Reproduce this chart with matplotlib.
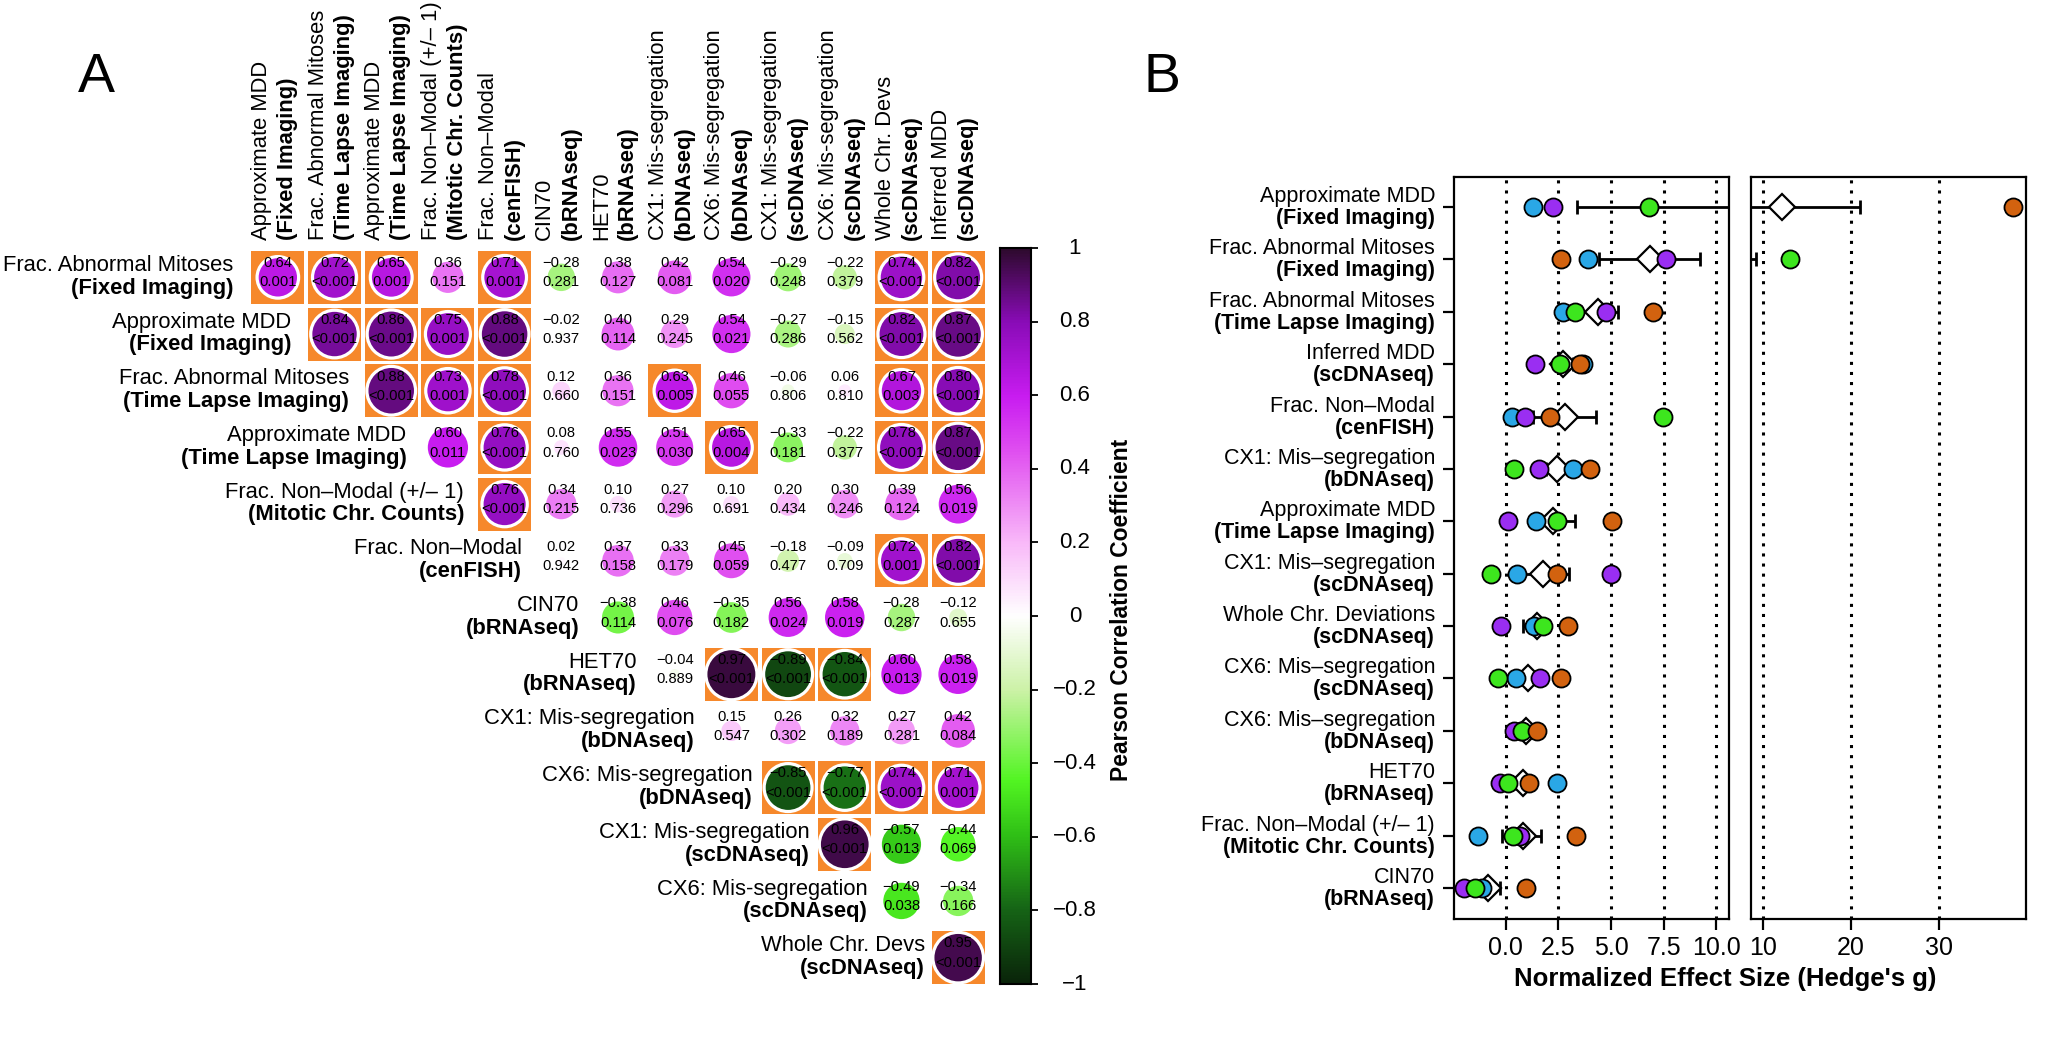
import numpy as np
import matplotlib
matplotlib.use("Agg")
import matplotlib.pyplot as plt
from matplotlib.patches import Circle, Rectangle
from matplotlib.colors import LinearSegmentedColormap, Normalize
import matplotlib.transforms as mtransforms

plt.rcParams['font.family'] = ['Liberation Sans', 'DejaVu Sans']

# ---------------- Panel A data ----------------
row_main = ["Frac. Abnormal Mitoses", "Approximate MDD", "Frac. Abnormal Mitoses", "Approximate MDD",
            "Frac. Non\u2013Modal (+/\u2013 1)", "Frac. Non\u2013Modal", "CIN70", "HET70",
            "CX1: Mis-segregation", "CX6: Mis-segregation", "CX1: Mis-segregation",
            "CX6: Mis-segregation", "Whole Chr. Devs"]
row_sub = ["(Fixed Imaging)", "(Fixed Imaging)", "(Time Lapse Imaging)", "(Time Lapse Imaging)",
           "(Mitotic Chr. Counts)", "(cenFISH)", "(bRNAseq)", "(bRNAseq)", "(bDNAseq)", "(bDNAseq)",
           "(scDNAseq)", "(scDNAseq)", "(scDNAseq)"]
col_main = ["Approximate MDD", "Frac. Abnormal Mitoses", "Approximate MDD", "Frac. Non\u2013Modal (+/\u2013 1)",
            "Frac. Non\u2013Modal", "CIN70", "HET70", "CX1: Mis-segregation", "CX6: Mis-segregation",
            "CX1: Mis-segregation", "CX6: Mis-segregation", "Whole Chr. Devs", "Inferred MDD"]
col_sub = ["(Fixed Imaging)", "(Time Lapse Imaging)", "(Time Lapse Imaging)", "(Mitotic Chr. Counts)",
           "(cenFISH)", "(bRNAseq)", "(bRNAseq)", "(bDNAseq)", "(bDNAseq)", "(scDNAseq)", "(scDNAseq)",
           "(scDNAseq)", "(scDNAseq)"]

# upper-triangle correlations, row i holds columns i..12
corr_r = [
    [0.64, 0.72, 0.65, 0.36, 0.71, -0.28, 0.38, 0.42, 0.54, -0.29, -0.22, 0.74, 0.82],
    [0.84, 0.86, 0.75, 0.88, -0.02, 0.40, 0.29, 0.54, -0.27, -0.15, 0.82, 0.87],
    [0.88, 0.73, 0.78, 0.12, 0.36, 0.63, 0.46, -0.06, 0.06, 0.67, 0.80],
    [0.60, 0.76, 0.08, 0.55, 0.51, 0.65, -0.33, -0.22, 0.78, 0.87],
    [0.76, 0.34, 0.10, 0.27, 0.10, 0.20, 0.30, 0.39, 0.56],
    [0.02, 0.37, 0.33, 0.45, -0.18, -0.09, 0.72, 0.82],
    [-0.38, 0.46, -0.35, 0.56, 0.58, -0.28, -0.12],
    [-0.04, 0.97, -0.89, -0.84, 0.60, 0.58],
    [0.15, 0.26, 0.32, 0.27, 0.42],
    [-0.85, -0.77, 0.74, 0.71],
    [0.96, -0.57, -0.44],
    [-0.49, -0.34],
    [0.95],
]
corr_p = [
    ["0.001", "<0.001", "0.001", "0.151", "0.001", "0.281", "0.127", "0.081", "0.020", "0.248", "0.379", "<0.001", "<0.001"],
    ["<0.001", "<0.001", "0.001", "<0.001", "0.937", "0.114", "0.245", "0.021", "0.286", "0.562", "<0.001", "<0.001"],
    ["<0.001", "0.001", "<0.001", "0.660", "0.151", "0.005", "0.055", "0.806", "0.810", "0.003", "<0.001"],
    ["0.011", "<0.001", "0.760", "0.023", "0.030", "0.004", "0.181", "0.377", "<0.001", "<0.001"],
    ["<0.001", "0.215", "0.736", "0.296", "0.691", "0.434", "0.246", "0.124", "0.019"],
    ["0.942", "0.158", "0.179", "0.059", "0.477", "0.709", "0.001", "<0.001"],
    ["0.114", "0.076", "0.182", "0.024", "0.019", "0.287", "0.655"],
    ["0.889", "<0.001", "<0.001", "<0.001", "0.013", "0.019"],
    ["0.547", "0.302", "0.189", "0.281", "0.084"],
    ["<0.001", "<0.001", "<0.001", "0.001"],
    ["<0.001", "0.013", "0.069"],
    ["0.038", "0.166"],
    ["<0.001"],
]
sig_level = 0.01
cbar_ticks = [1, 0.8, 0.6, 0.4, 0.2, 0, -0.2, -0.4, -0.6, -0.8, -1]

# ---------------- Panel B data ----------------
b_main = ["Approximate MDD", "Frac. Abnormal Mitoses", "Frac. Abnormal Mitoses", "Inferred MDD",
          "Frac. Non\u2013Modal", "CX1: Mis\u2013segregation", "Approximate MDD", "CX1: Mis\u2013segregation",
          "Whole Chr. Deviations", "CX6: Mis\u2013segregation", "CX6: Mis\u2013segregation", "HET70",
          "Frac. Non\u2013Modal (+/\u2013 1)", "CIN70"]
b_sub = ["(Fixed Imaging)", "(Fixed Imaging)", "(Time Lapse Imaging)", "(scDNAseq)", "(cenFISH)", "(bDNAseq)",
         "(Time Lapse Imaging)", "(scDNAseq)", "(scDNAseq)", "(scDNAseq)", "(bDNAseq)", "(bRNAseq)",
         "(Mitotic Chr. Counts)", "(bRNAseq)"]
g_blue = [1.28, 3.89, 2.73, 3.68, 0.28, 3.20, 1.42, 0.52, 1.37, 0.47, 0.75, 2.46, -1.33, -1.14]
g_purple = [2.27, 7.59, 4.78, 1.39, 0.91, 1.58, 0.09, 5.00, -0.24, 1.61, 0.38, -0.28, 0.66, -1.99]
g_green = [6.82, 13.15, 3.29, 2.58, 7.48, 0.38, 2.46, -0.71, 1.75, -0.38, 0.80, 0.09, 0.33, -1.47]
g_orange = [38.49, 2.61, 7.00, 3.52, 2.10, 3.99, 5.06, 2.46, 2.94, 2.65, 1.47, 1.09, 3.36, 0.99]
g_pooled = [12.24, 6.85, 4.39, 2.73, 2.82, 2.42, 2.23, 1.75, 1.47, 1.04, 0.99, 0.81, 0.81, -0.85]
g_lo = [3.40, 4.44, 3.60, 2.40, 1.30, 1.90, 1.60, 0.80, 0.81, 0.70, 0.75, 0.50, -0.19, -1.30]
g_hi = [21.06, 9.22, 5.33, 3.20, 4.31, 2.95, 3.27, 3.03, 2.08, 1.35, 1.25, 1.10, 1.70, -0.28]
left_ticks = [0.0, 2.5, 5.0, 7.5, 10.0]
right_ticks = [10, 20, 30]

series_colors = {"blue": "#2aa7e6", "purple": "#9a2ef2", "green": "#3de61e", "orange": "#d2620f"}

# ---------------- Figure ----------------
W, H = 2048, 1044
fig = plt.figure(figsize=(W / 100, H / 100), dpi=100)


def add_axes_px(x0, y0, x1, y1):
    return fig.add_axes([x0 / W, 1 - y1 / H, (x1 - x0) / W, (y1 - y0) / H])


cmap = LinearSegmentedColormap.from_list("gwp", [
    (0.0, "#0a240a"), (0.1, "#166416"), (0.2, "#2fbf16"), (0.275, "#52f522"),
    (0.4, "#cdf2a8"), (0.5, "#ffffff"), (0.6, "#f9b9f9"), (0.725, "#e04ff0"),
    (0.8, "#c81cf0"), (0.9, "#8a0cb8"), (1.0, "#2e0a2e")])
norm = Normalize(-1, 1)

# ---- Panel A matrix ----
axA = add_axes_px(249.5, 249, 986.5, 986)
axA.set_xlim(-0.5, 12.5)
axA.set_ylim(12.5, -0.5)
axA.axis("off")
cell_px = 737 / 13.0
fs_cell = 10.6
fs_lab = 15.8

for i, (rrow, prow) in enumerate(zip(corr_r, corr_p)):
    for k, (r, p) in enumerate(zip(rrow, prow)):
        j = i + k
        pval = float(p.replace("<", ""))
        sig = pval < sig_level if not p.startswith("<") else True
        rad = 0.458 * np.sqrt(abs(r))
        if sig:
            s = 0.935
            axA.add_patch(Rectangle((j - s / 2, i - s / 2), s, s, facecolor="#f6882b",
                                    edgecolor="none", zorder=1))
            axA.add_patch(Circle((j, i), rad, facecolor=cmap(norm(r)), edgecolor="white",
                                 linewidth=2.3, zorder=2))
        else:
            axA.add_patch(Circle((j, i), rad, facecolor=cmap(norm(r)), edgecolor="none", zorder=2))
        rt = f"{r:.2f}".replace("-", "\u2212")
        axA.text(j, i - 0.25, rt, ha="center", va="center", fontsize=fs_cell, zorder=3)
        axA.text(j, i + 0.09, p, ha="center", va="center", fontsize=fs_cell, zorder=3)

# row labels along the diagonal
for i in range(13):
    xr = i - 0.5 - (16 - 0.95 * i) / cell_px
    axA.text(xr, i - 0.21, row_main[i], ha="right", va="center", fontsize=fs_lab, clip_on=False)
    axA.text(xr, i + 0.19, row_sub[i], ha="right", va="center", fontsize=fs_lab,
             fontweight="bold", clip_on=False)

# column labels on top
ytop = -0.5 - 9 / cell_px
for j in range(13):
    axA.text(j - 0.29, ytop, col_main[j], rotation=90, ha="center", va="bottom",
             fontsize=fs_lab, clip_on=False)
    axA.text(j + 0.17, ytop, col_sub[j], rotation=90, ha="center", va="bottom",
             fontsize=fs_lab, fontweight="bold", clip_on=False)

# ---- colour bar ----
cax = add_axes_px(1000, 248, 1031, 984)
grad = np.linspace(-1, 1, 512).reshape(-1, 1)
cax.imshow(grad, cmap=cmap, norm=norm, aspect="auto", origin="lower", extent=(0, 1, -1, 1))
cax.set_xlim(0, 1)
cax.set_ylim(-1, 1)
cax.set_xticks([])
cax.yaxis.tick_right()
cax.set_yticks(cbar_ticks)
cax.set_yticklabels([])
cax.tick_params(axis="y", direction="out", length=5, width=1.3)
for sp in cax.spines.values():
    sp.set_linewidth(1.5)
btr = mtransforms.blended_transform_factory(cax.transAxes, cax.transData)
for t in cbar_ticks:
    lab = ("%g" % t).replace("-", "\u2212")
    cax.text((1075 - 1000) / 31, t, lab, transform=btr, ha="center", va="center", fontsize=16)
fig.text(1121 / W, 1 - 610 / H, "Pearson Correlation Coefficient", rotation=90, ha="center",
         va="center", fontsize=16.5, fontweight="bold")

# ---- panel letters ----
fig.text(96 / W, 1 - 78 / H, "A", fontsize=40, ha="center", va="center")
fig.text(1162 / W, 1 - 78 / H, "B", fontsize=40, ha="center", va="center")

# ---------------- Panel B ----------------
axL = add_axes_px(1454, 177, 1729, 919)
axR = add_axes_px(1751, 177, 2026, 919)
nrow = len(b_main)
ypos = np.arange(nrow, 0, -1)

for ax, xl, ticks in ((axL, (-2.45, 10.60), left_ticks), (axR, (8.67, 39.92), right_ticks)):
    ax.set_xlim(*xl)
    ax.set_ylim(0.408, 14.573)
    for v in ticks:
        ax.axvline(v, color="k", linestyle=(0, (1, 2.3)), linewidth=2.2, zorder=1)
    ax.errorbar(g_pooled, ypos, xerr=[np.array(g_pooled) - np.array(g_lo),
                                      np.array(g_hi) - np.array(g_pooled)],
                fmt="none", ecolor="k", elinewidth=2.0, capsize=4.7, capthick=2.0, zorder=2)
    ax.plot(g_pooled, ypos, linestyle="none", marker="D", markersize=13, markerfacecolor="white",
            markeredgecolor="k", markeredgewidth=1.6, zorder=3)
    for name, vals in (("blue", g_blue), ("purple", g_purple), ("green", g_green), ("orange", g_orange)):
        ax.plot(vals, ypos, linestyle="none", marker="o", markersize=13, markerfacecolor=series_colors[name],
                markeredgecolor="k", markeredgewidth=1.3, zorder=4)
    ax.set_xticks(ticks)
    ax.set_xticklabels([("%.1f" % t) if ax is axL else ("%d" % t) for t in ticks])
    ax.tick_params(axis="x", direction="out", length=8, width=1.6, labelsize=18, pad=4)
    for sp in ax.spines.values():
        sp.set_linewidth(1.6)

axL.set_yticks(ypos)
axL.set_yticklabels([])
axL.tick_params(axis="y", direction="out", length=8, width=1.6)
axR.set_yticks([])

ytr = mtransforms.blended_transform_factory(axL.transAxes, axL.transData)
xlab = (1435 - 1454) / (1729 - 1454)
for k in range(nrow):
    axL.text(xlab, ypos[k] + 0.2, b_main[k], transform=ytr, ha="right", va="center", fontsize=15.5)
    axL.text(xlab, ypos[k] - 0.22, b_sub[k], transform=ytr, ha="right", va="center", fontsize=15.5,
             fontweight="bold")

fig.text(1725 / W, 1 - 979 / H, "Normalized Effect Size (Hedge's g)", ha="center", va="center",
         fontsize=18.5, fontweight="bold")

fig.savefig("out.png", dpi=100)
